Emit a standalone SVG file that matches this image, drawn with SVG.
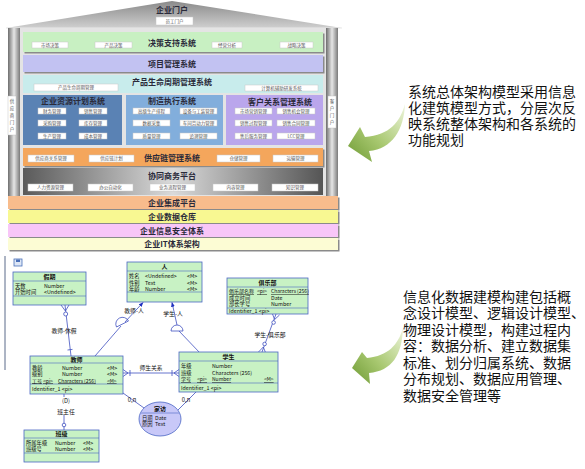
<svg xmlns="http://www.w3.org/2000/svg" width="585" height="469" viewBox="0 0 585 469">
<defs>
<linearGradient id="roofG" x1="0" y1="0" x2="0" y2="1"><stop offset="0" stop-color="#8a8a8a"/><stop offset="1" stop-color="#cfcfcf"/></linearGradient>
<linearGradient id="pillarG" x1="0" y1="0" x2="1" y2="0"><stop offset="0" stop-color="#6e6e6e"/><stop offset="0.5" stop-color="#e6e6e6"/><stop offset="1" stop-color="#7a7a7a"/></linearGradient>
<linearGradient id="collabG" x1="0" y1="0" x2="1" y2="0"><stop offset="0" stop-color="#5a5a5a"/><stop offset="0.5" stop-color="#dadada"/><stop offset="1" stop-color="#555"/></linearGradient>
<linearGradient id="arrowG1" x1="1" y1="0" x2="0" y2="1"><stop offset="0" stop-color="#eef5dc"/><stop offset="0.55" stop-color="#a8c870"/><stop offset="1" stop-color="#6e9a34"/></linearGradient>
<marker id="fillArr" viewBox="0 0 10 10" refX="9" refY="5" markerWidth="6" markerHeight="6" orient="auto"><path d="M0,1 L10,5 L0,9 Z" fill="#2030c0"/></marker>
<style>
.bt{font-family:"Noto Sans CJK SC","Liberation Sans",sans-serif;font-weight:bold;font-size:8px;fill:#2a2a3a;text-anchor:middle;}
.sb{fill:#fff;stroke:#c8c8c8;stroke-width:0.5;}
.st{font-family:"Noto Sans CJK SC","Liberation Sans",sans-serif;font-size:4.5px;fill:#555;text-anchor:middle;}
.shadow{fill:#8a8a8a;}
.ent{fill:#c8f2c4;stroke:#4a66c4;stroke-width:0.8;}
.sep{stroke:#4a66c4;stroke-width:0.6;}
.et{font-family:"Noto Sans CJK SC","Liberation Sans",sans-serif;font-size:5.3px;fill:#111;}
.u{text-decoration:underline;font-size:5px;}
.eh{font-family:"Noto Sans CJK SC","Liberation Sans",sans-serif;font-size:6px;font-weight:bold;fill:#111;text-anchor:middle;}
.cn{stroke:#4050c0;stroke-width:0.8;fill:none;}
.cl{font-family:"Noto Sans CJK SC","Liberation Sans",sans-serif;font-size:5.8px;fill:#111;text-anchor:middle;}
.rt{font-family:"Noto Sans CJK SC","Liberation Sans",sans-serif;font-size:14px;fill:#111;}
</style>
</defs>
<rect width="585" height="469" fill="#fff"/>

<!-- Architecture building -->
<g id="roof">
<polygon points="6,28 172,1 342,28" fill="url(#roofG)"/>
<line x1="6" y1="28" x2="342" y2="28" stroke="#e8e8e8" stroke-width="1"/>
<text class="bt" x="172" y="13">企业门户</text>
<rect class="sb" x="156" y="17" width="37" height="8"/>
<text class="st" x="174.5" y="22.6">员工门户</text>
</g>
<g id="body">
<rect x="8" y="28" width="330" height="168" fill="#e4e4e4"/>
<rect x="8" y="28" width="12" height="168" fill="url(#pillarG)"/>
<rect x="326" y="28" width="12" height="168" fill="url(#pillarG)"/>
</g>
<g id="supplier-portal">
<rect x="8" y="96" width="8" height="39" fill="#fff" stroke="#bbb" stroke-width="0.4"/>
<text class="st" x="12" y="103">供</text><text class="st" x="12" y="110">应</text><text class="st" x="12" y="117">商</text><text class="st" x="12" y="124">门</text><text class="st" x="12" y="131">户</text>
</g>
<g id="customer-portal">
<rect x="328" y="96" width="8" height="32" fill="#fff" stroke="#bbb" stroke-width="0.4"/>
<text class="st" x="332" y="103">客</text><text class="st" x="332" y="110">户</text><text class="st" x="332" y="117">门</text><text class="st" x="332" y="124">户</text>
</g>

<g id="decision">
<rect class="shadow" x="24.5" y="33.5" width="300" height="20"/>
<rect x="23" y="32" width="300" height="20" fill="#c8f0c2"/>
<text class="bt" x="172" y="46" font-size="9">决策支持系统</text>
<rect class="sb" x="32" y="42" width="36" height="6"/><text class="st" x="50" y="46.6">市场决策</text>
<rect class="sb" x="95" y="42" width="37" height="6"/><text class="st" x="113.5" y="46.6">产品决策</text>
<rect class="sb" x="212" y="42" width="30" height="6"/><text class="st" x="227" y="46.6">经营分析</text>
<rect class="sb" x="280" y="42" width="33" height="6"/><text class="st" x="296.5" y="46.6">战略决策</text>
</g>
<g id="project">
<rect class="shadow" x="24.5" y="56.5" width="300" height="17"/>
<rect x="23" y="55" width="300" height="17" fill="#c2c2f2"/>
<text class="bt" x="172" y="66.5">项目管理系统</text>
</g>
<g id="plm">
<rect x="23" y="75" width="300" height="18" fill="#c8ecec"/>
<text class="bt" x="172" y="85">产品生命周期管理系统</text>
<rect class="sb" x="34" y="84" width="84" height="7"/><text class="st" x="76" y="89">产品生命周期管理</text>
<rect class="sb" x="245" y="85" width="73" height="6"/><text class="st" x="281.5" y="89.5">计算机辅助研发系统</text>
</g>
<g id="erp">
<rect x="23" y="95" width="99" height="50" fill="#5a82b4"/>
<text class="bt" x="73" y="104" fill="#1a2448">企业资源计划系统</text>
<rect class="sb" x="38" y="108" width="28" height="6"/><text class="st" x="52" y="112.5">财务管理</text>
<rect class="sb" x="79" y="108" width="28" height="6"/><text class="st" x="93" y="112.5">销售管理</text>
<rect class="sb" x="38" y="120" width="28" height="6"/><text class="st" x="52" y="124.5">采购管理</text>
<rect class="sb" x="79" y="120" width="28" height="6"/><text class="st" x="93" y="124.5">库存管理</text>
<rect class="sb" x="38" y="133" width="28" height="6"/><text class="st" x="52" y="137.5">生产管理</text>
<rect class="sb" x="79" y="133" width="28" height="6"/><text class="st" x="93" y="137.5">成本管理</text>
</g>
<g id="mes">
<rect x="126" y="95" width="97" height="50" fill="#82aedc"/>
<text class="bt" x="172" y="104">制造执行系统</text>
<rect class="sb" x="133" y="108" width="37" height="6"/><text class="st" x="151.5" y="112.5">高级生产排程</text>
<rect class="sb" x="180" y="108" width="37" height="6"/><text class="st" x="198.5" y="112.5">设备与工装管理</text>
<rect class="sb" x="133" y="120" width="37" height="6"/><text class="st" x="151.5" y="124.5">数据采集</text>
<rect class="sb" x="180" y="120" width="37" height="6"/><text class="st" x="198.5" y="124.5">车间劳动力管理</text>
<rect class="sb" x="133" y="133" width="37" height="6"/><text class="st" x="151.5" y="137.5">质量管理</text>
<rect class="sb" x="180" y="133" width="37" height="6"/><text class="st" x="198.5" y="137.5">追溯管理</text>
</g>
<g id="crm">
<rect x="226" y="95" width="97" height="50" fill="#baa6ec"/>
<text class="bt" x="280" y="105" fill="#2a1a50">客户关系管理系统</text>
<rect class="sb" x="235" y="108" width="37" height="6"/><text class="st" x="253.5" y="112.5">市场营销管理</text>
<rect class="sb" x="277" y="108" width="38" height="6"/><text class="st" x="296" y="112.5">销售机会管理</text>
<rect class="sb" x="235" y="120" width="37" height="6"/><text class="st" x="253.5" y="124.5">销售过程管理</text>
<rect class="sb" x="277" y="120" width="38" height="6"/><text class="st" x="296" y="124.5">销售合同管理</text>
<rect class="sb" x="235" y="133" width="37" height="6"/><text class="st" x="253.5" y="137.5">售后服务管理</text>
<rect class="sb" x="277" y="133" width="38" height="6"/><text class="st" x="296" y="137.5">LCC管理</text>
</g>
<g id="scm">
<rect class="shadow" x="24.5" y="149.5" width="300" height="18"/>
<rect x="23" y="148" width="300" height="18" fill="#f4a65c"/>
<text class="bt" x="172" y="161" fill="#7a2c08">供应链管理系统</text>
<rect class="sb" x="28" y="155" width="46" height="7"/><text class="st" x="51" y="160">供应商关系管理</text>
<rect class="sb" x="89" y="155" width="45" height="7"/><text class="st" x="111.5" y="160">供应链计划</text>
<rect class="sb" x="217" y="155" width="43" height="7"/><text class="st" x="238.5" y="160">仓储管理</text>
<rect class="sb" x="273" y="155" width="45" height="7"/><text class="st" x="295.5" y="160">运输管理</text>
</g>
<g id="collab">
<rect x="23" y="168" width="300" height="27" fill="url(#collabG)"/>
<text class="bt" x="172" y="179">协同商务平台</text>
<rect class="sb" x="28" y="184" width="45" height="7"/><text class="st" x="50.5" y="189">人力资源管理</text>
<rect class="sb" x="88" y="184" width="45" height="7"/><text class="st" x="110.5" y="189">办公自动化</text>
<rect class="sb" x="150" y="184" width="45" height="7"/><text class="st" x="172.5" y="189">业务流程管理</text>
<rect class="sb" x="213" y="184" width="45" height="7"/><text class="st" x="235.5" y="189">内容管理</text>
<rect class="sb" x="272" y="184" width="46" height="7"/><text class="st" x="295" y="189">知识管理</text>
</g>
<g id="integration">
<rect class="shadow" x="9.5" y="197.5" width="330" height="13"/>
<rect x="8" y="196" width="330" height="13" fill="#f8bc8c"/>
<text class="bt" x="172" y="205.5">企业集成平台</text>
</g>
<g id="warehouse">
<rect class="shadow" x="9.5" y="211.5" width="330" height="13"/>
<rect x="8" y="210" width="330" height="13" fill="#f8f892"/>
<text class="bt" x="172" y="219.5">企业数据仓库</text>
</g>
<g id="security">
<rect class="shadow" x="9.5" y="225.5" width="330" height="13"/>
<rect x="8" y="224" width="330" height="13" fill="#f8c6f8"/>
<text class="bt" x="172" y="233.5">企业信息安全体系</text>
</g>
<g id="itarch">
<rect class="shadow" x="9.5" y="239.5" width="330" height="12"/>
<rect x="8" y="238" width="330" height="12" fill="#fcfcd4"/>
<text class="bt" x="172" y="247">企业IT体系架构</text>
</g>

<!-- Right texts and arrows -->
<g id="arrow1">
<path d="M405,104 C400,122 390,135 365,137 L360,127 L348,146 L372,162 L369,151 C392,149 404,130 405,104 Z" fill="url(#arrowG1)"/>
</g>
<g id="note1">
<text class="rt" x="408" y="97">系统总体架构模型采用信息</text>
<text class="rt" x="408" y="113">化建筑模型方式，分层次反</text>
<text class="rt" x="408" y="129">映系统整体架构和各系统的</text>
<text class="rt" x="408" y="145">功能规划</text>
</g>
<g id="arrow2">
<path d="M403,328 C398,345 388,356 367,358 L362,352 L352,368 L370,384 L369,373 C392,371 402,355 403,328 Z" fill="url(#arrowG1)"/>
</g>
<g id="note2">
<text class="rt" x="403" y="302">信息化数据建模构建包括概</text>
<text class="rt" x="403" y="318">念设计模型、逻辑设计模型、</text>
<text class="rt" x="403" y="334.5">物理设计模型，构建过程内</text>
<text class="rt" x="403" y="351">容：数据分析、建立数据集</text>
<text class="rt" x="403" y="367.5">标准、划分归属系统、数据</text>
<text class="rt" x="403" y="384">分布规划、数据应用管理、</text>
<text class="rt" x="403" y="400.5">数据安全管理等</text>
</g>

<!-- ER model -->
<g id="frame">
<line x1="5" y1="256" x2="5" y2="370" stroke="#5a6a8a" stroke-width="1"/>
<rect x="14" y="259" width="8" height="7" fill="#dde6f6" stroke="#4a70b8" stroke-width="0.8"/>
<rect x="16" y="259.5" width="4" height="2.5" fill="#4a70b8"/>
</g>

<g id="connectors">
<line class="cn" x1="65" y1="305" x2="71" y2="356"/>
<path class="cn" d="M61,305 L65.4,311 L69,305"/>
<circle cx="65.7" cy="314" r="2" fill="#fff" stroke="#4050c0" stroke-width="0.8"/>
<line class="cn" x1="67.5" y1="350" x2="72.5" y2="349.4"/>
<text class="cl" x="64" y="333">教师-休假</text>
<line class="cn" x1="95" y1="356" x2="121" y2="326"/>
<path d="M116.5,327 A6,6 0 0 1 128.5,321 Z" fill="#fff" stroke="#4050c0" stroke-width="0.8"/>
<line class="cn" x1="125" y1="322" x2="143" y2="302.5" marker-end="url(#fillArr)"/>
<text class="cl" x="134" y="313">教师-人</text>
<line class="cn" x1="200" y1="353" x2="179" y2="331"/>
<path d="M171,331 A6,6 0 0 1 183,331 Z" fill="#fff" stroke="#4050c0" stroke-width="0.8"/>
<line class="cn" x1="177" y1="325" x2="172" y2="302.5" marker-end="url(#fillArr)"/>
<text class="cl" x="173" y="316">学生-人</text>
<line class="cn" x1="262" y1="352" x2="276" y2="314"/>
<path class="cn" d="M272.5,314 L274.6,319.5 L279.5,315"/>
<circle cx="273.6" cy="322.5" r="1.8" fill="#fff" stroke="#4050c0" stroke-width="0.8"/>
<path class="cn" d="M258.5,352 L263.3,347 L265.5,352.5"/>
<circle cx="264.6" cy="344" r="1.8" fill="#fff" stroke="#4050c0" stroke-width="0.8"/>
<text class="cl" x="270" y="337">学生-俱乐部</text>
<line class="cn" x1="123" y1="373" x2="179" y2="373"/>
<path class="cn" d="M123,369.5 L128,373 L123,376.5"/>
<line class="cn" x1="130" y1="370" x2="130" y2="376"/>
<path class="cn" d="M179,369.5 L174,373 L179,376.5"/>
<line class="cn" x1="172" y1="370" x2="172" y2="376"/>
<text class="cl" x="151" y="369.5">师生关系</text>
<line class="cn" x1="64" y1="394" x2="64" y2="430"/>
<circle cx="64" cy="425" r="1.8" fill="#fff" stroke="#4050c0" stroke-width="0.8"/>
<rect x="56" y="397" width="16" height="18" fill="#fff"/>
<text class="cl" x="66" y="403" fill="#444">(D)</text>
<text class="cl" x="66" y="414">班主任</text>
<line class="cn" x1="123" y1="393" x2="144" y2="408"/>
<text class="cl" x="132" y="402">0,n</text>
<line class="cn" x1="178" y1="410" x2="196" y2="392"/>
<text class="cl" x="186" y="402">0,n</text>
</g>

<g id="jiaqi">
<rect class="ent" x="13" y="272" width="73" height="33"/>
<line class="sep" x1="13" y1="281" x2="86" y2="281"/>
<line class="sep" x1="13" y1="296" x2="86" y2="296"/>
<text class="eh" x="49.5" y="279">假期</text>
<text class="et" x="15" y="287.5">天数</text><text class="et" x="44" y="287.5">Number</text>
<text class="et" x="15" y="294">开始时间</text><text class="et" x="44" y="294">&lt;Undefined&gt;</text>
</g>

<g id="ren">
<rect class="ent" x="127" y="262" width="75" height="40"/>
<line class="sep" x1="127" y1="271" x2="202" y2="271"/>
<line class="sep" x1="127" y1="292" x2="202" y2="292"/>
<text class="eh" x="164.5" y="269">人</text>
<text class="et" x="129" y="278">姓名</text><text class="et" x="145" y="278">&lt;Undefined&gt;</text><text class="et" x="187" y="278">&lt;M&gt;</text>
<text class="et" x="129" y="284.5">性别</text><text class="et" x="145" y="284.5">Text</text><text class="et" x="187" y="284.5">&lt;M&gt;</text>
<text class="et" x="129" y="291">年龄</text><text class="et" x="145" y="291">Number</text><text class="et" x="187" y="291">&lt;M&gt;</text>
</g>

<g id="julebu">
<rect class="ent" x="227" y="278" width="81" height="36"/>
<line class="sep" x1="227" y1="287" x2="308" y2="287"/>
<line class="sep" x1="227" y1="308" x2="308" y2="308"/>
<text class="eh" x="267.5" y="285">俱乐部</text>
<text class="et u" x="229" y="293" font-size="4.6">俱乐部名称</text><text class="et u" x="257" y="293" font-size="4.6">&lt;pi&gt;</text><text class="et u" x="271" y="293" font-size="4.6">Characters (256)</text>
<text class="et" x="229" y="299.5">成立时间</text><text class="et" x="271" y="299.5">Date</text>
<text class="et" x="229" y="306">部长学号</text><text class="et" x="271" y="306">Number</text>
<text class="et" x="229" y="313">Identifier_1  &lt;pi&gt;</text>
</g>

<g id="jiaoshi">
<rect class="ent" x="30" y="356" width="93" height="38"/>
<line class="sep" x1="30" y1="363" x2="123" y2="363"/>
<line class="sep" x1="30" y1="384" x2="123" y2="384"/>
<text class="eh" x="76.5" y="362">教师</text>
<text class="et" x="32" y="370">教龄</text><text class="et" x="62" y="370">Number</text><text class="et" x="107" y="370">&lt;M&gt;</text>
<text class="et" x="32" y="376">级别</text><text class="et" x="62" y="376">Number</text><text class="et" x="107" y="376">&lt;M&gt;</text>
<text class="et u" x="32" y="382.5">工号</text><text class="et u" x="43" y="382.5">&lt;pi&gt;</text><text class="et u" x="58" y="382.5">Characters (256)</text><text class="et u" x="107" y="382.5">&lt;M&gt;</text>
<text class="et" x="32" y="390.5">Identifier_1  &lt;pi&gt;</text>
</g>

<g id="xuesheng">
<rect class="ent" x="179" y="352" width="99" height="40"/>
<line class="sep" x1="179" y1="361" x2="278" y2="361"/>
<line class="sep" x1="179" y1="383" x2="278" y2="383"/>
<text class="eh" x="228.5" y="359">学生</text>
<text class="et" x="181" y="368">年级</text><text class="et" x="212" y="368">Number</text>
<text class="et" x="181" y="374.5">班级</text><text class="et" x="212" y="374.5">Characters (256)</text>
<text class="et u" x="181" y="381">学号</text><text class="et u" x="197" y="381">&lt;pi&gt;</text><text class="et u" x="212" y="381">Number</text><text class="et u" x="264" y="381">&lt;M&gt;</text>
<text class="et" x="181" y="389.5">Identifier_1  &lt;pi&gt;</text>
</g>

<g id="banji">
<rect class="ent" x="24" y="430" width="75" height="32"/>
<line class="sep" x1="24" y1="438" x2="99" y2="438"/>
<line class="sep" x1="24" y1="453" x2="99" y2="453"/>
<text class="eh" x="61.5" y="436">班级</text>
<text class="et" x="26" y="444.5">所属年级</text><text class="et" x="55" y="444.5">Number</text><text class="et" x="83" y="444.5">&lt;M&gt;</text>
<text class="et" x="26" y="451">班级号</text><text class="et" x="55" y="451">Number</text><text class="et" x="83" y="451">&lt;M&gt;</text>
</g>

<g id="jiafang">
<ellipse cx="160" cy="419" rx="21" ry="17" fill="#c8c8f8" stroke="#4a66c4" stroke-width="0.8"/>
<line class="sep" x1="141" y1="413" x2="179" y2="413"/>
<text class="eh" x="160" y="411">家访</text>
<text class="et" x="142" y="419.5">日期</text><text class="et" x="155" y="419.5">Date</text>
<text class="et" x="142" y="426">原因</text><text class="et" x="155" y="426">Text</text>
</g>
</svg>
